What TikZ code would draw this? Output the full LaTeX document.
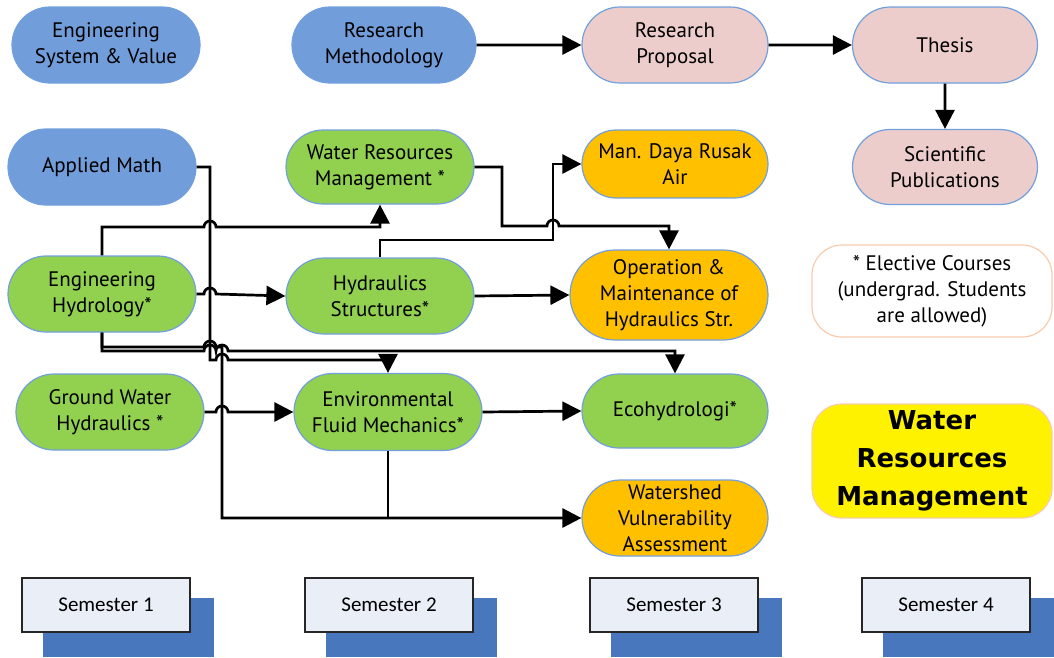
\documentclass[tikz,border=0pt]{standalone}
\usepackage{fontspec}
\setmainfont{PT Sans}
\newfontfamily\semfont{Carlito}
\newfontfamily\headfont{DejaVu Sans}
\usetikzlibrary{arrows.meta,calc,shapes.misc}

\definecolor{edgeblue}{RGB}{114,159,221}
\definecolor{coreblue}{RGB}{113,158,219}
\definecolor{coregreen}{RGB}{146,208,80}
\definecolor{coreorange}{RGB}{255,192,0}
\definecolor{corepink}{RGB}{236,205,204}
\definecolor{peach}{RGB}{248,203,173}
\definecolor{semfill}{RGB}{233,238,247}
\definecolor{semshade}{RGB}{72,119,190}

\begin{document}
\begin{tikzpicture}[x=1pt,y=-1pt,
  course/.style={shape=rounded rectangle, draw=edgeblue, line width=1.2pt,
    minimum width=188pt, minimum height=76pt, inner sep=0pt, align=center,
    font=\fontsize{21}{26}\selectfont},
  basic/.style={course, fill=coreblue},
  major/.style={course, fill=coregreen},
  applied/.style={course, fill=coreorange},
  research/.style={course, fill=corepink},
  note/.style={draw=peach, line width=1.2pt, rounded corners=30pt, inner sep=0pt,
    minimum width=240pt, align=center},
  semlabel/.style={draw=black!85, line width=1.3pt, fill=semfill, minimum width=168pt,
    minimum height=54pt, inner sep=0pt, font=\semfont\fontsize{21}{24}\selectfont},
  wire/.style={line width=2.7pt},
  link/.style={wire, -{Triangle[length=19pt,width=19pt]}}]
\useasboundingbox (0,0) rectangle (1054,657);

% ---- course nodes ----
\node[basic] (esv) at (106,45) {Engineering\\System \& Value};
\node[basic, minimum width=184pt] (rm) at (384,45) {Research\\Methodology};
\node[research, minimum width=186pt] (rp) at (675,45) {Research\\Proposal};
\node[research, minimum width=185pt] (th) at (945,45) {Thesis};

\node[basic] (am) at (102,167) {Applied Math};
\node[major, minimum height=74pt] (wrm) at (380,167) {Water Resources\\Management *};
\node[applied, minimum width=186pt, minimum height=68pt] (mdr) at (675,164) {Man. Daya Rusak\\Air};
\node[research, minimum width=185pt, minimum height=75pt] (sp) at (945,167) {Scientific\\Publications};

\node[major] (eh) at (102,294) {Engineering\\Hydrology*};
\node[major] (hs) at (380,296) {Hydraulics\\Structures*};
\node[applied, minimum width=198pt, minimum height=90pt] (om) at (669,295) {Operation \&\\Maintenance of\\Hydraulics Str.};

\node[major] (gwh) at (110,412) {Ground Water\\Hydraulics *};
\node[major, minimum height=77pt] (efm) at (388,412) {Environmental\\Fluid Mechanics*};
\node[major, minimum width=186pt, minimum height=74pt] (eco) at (675,411) {Ecohydrologi*};
\node[applied, minimum width=186pt] (wva) at (675,518) {Watershed\\Vulnerability\\Assessment};

% ---- side notes ----
\node[note, minimum height=92pt, font=\fontsize{21}{26}\selectfont] (elec) at (932,291)
  {* Elective Courses\\(undergrad. Students\\are allowed)};
\node[note, fill=yellow, minimum height=114pt, font=\headfont\bfseries\fontsize{26}{38}\selectfont]
  (prog) at (932,461) {Water\\Resources\\Management};

% ---- semester labels with offset shadows ----
\fill[semshade] (43,598) rectangle (214,657);
\fill[semshade] (326,598) rectangle (497,657);
\fill[semshade] (611,598) rectangle (782,657);
\fill[semshade] (883,598) rectangle (1054,657);
\node[semlabel] (s1) at (106,605) {Semester 1};
\node[semlabel] (s2) at (389,605) {Semester 2};
\node[semlabel] (s3) at (674,605) {Semester 3};
\node[semlabel] (s4) at (946,605) {Semester 4};

% ---- research track ----
\draw[link] (rm) -- (rp);
\draw[link] (rp) -- (th);
\draw[link] (th) -- (sp);

% ---- prerequisite wiring (with hops over crossing wires) ----
\draw[link] (am.east) -| (210,360) -- (216,360)
  arc[start angle=180,end angle=0,radius=6pt] -- (efm.north |- 0,360) -- (efm.north);

\draw[link] (eh.north) |- (204,227)
  arc[start angle=180,end angle=0,radius=6pt] -- (wrm.south |- 0,227) -- (wrm.south);

\draw[link] (eh.east) -- (204,294)
  arc[start angle=180,end angle=0,radius=6pt] -- (hs.west);

\draw[link] (eh.south) |- (204,351)
  arc[start angle=180,end angle=0,radius=6pt] -- (216,351)
  arc[start angle=180,end angle=0,radius=6pt] -- (eco.north |- 0,351) -- (eco.north);

\draw[link] (eh.south) |- (204,347)
  arc[start angle=180,end angle=0,radius=6pt] -- (222,347) |- (wva.west);

\draw[wire] (efm.south) -- (efm.south |- wva.west);

\draw[link] (gwh.east) -- (216,412)
  arc[start angle=180,end angle=0,radius=6pt] -- (efm.west);

\draw[link] (hs.north) |- (553,240) |- (mdr.west);

\draw[link] (wrm.east) -| (502,226) -- (547,226)
  arc[start angle=180,end angle=0,radius=6pt] -- (om.north |- 0,226) -- (om.north);

\draw[link] (hs.east) -- (om.west);
\draw[link] (efm.east) -- (eco.west);
\end{tikzpicture}
\end{document}
